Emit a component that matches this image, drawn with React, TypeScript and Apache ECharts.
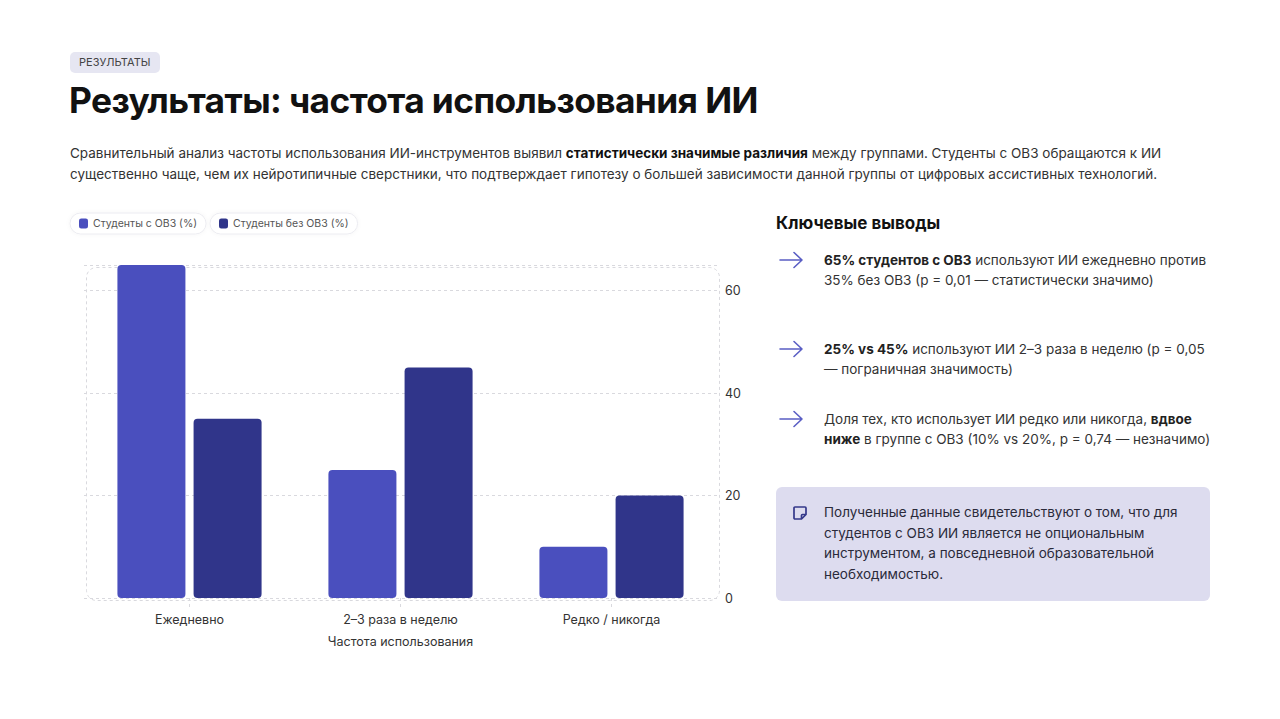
import React, { useEffect, useRef } from 'react';
import * as echarts from 'echarts';

const categories = ['Ежедневно', '2–3 раза в неделю', 'Редко / никогда'];
const withOvz = [65, 25, 10];
const withoutOvz = [35, 45, 20];
const seriesNames = ['Студенты с ОВЗ (%)', 'Студенты без ОВЗ (%)'];
const colors = ['#4a4fbe', '#30358a'];

const FONT = 'Inter, "Noto Sans", sans-serif';

// grid placement inside the chart box
const GRID = { left: 24, top: 60, width: 633, height: 333 };

const Chart: React.FC = () => {
  const chartRef = useRef<HTMLDivElement>(null);

  useEffect(() => {
    if (!chartRef.current) return;
    const myChart = echarts.init(chartRef.current, null, { renderer: 'svg' });

    const legendBase = {
      top: 8,
      orient: 'horizontal',
      icon: 'roundRect',
      itemWidth: 9,
      itemHeight: 10,
      itemGap: 0,
      padding: [5, 9, 5, 9],
      borderColor: '#ececf1',
      borderWidth: 1,
      borderRadius: 12,
      backgroundColor: '#fff',
      shadowColor: 'rgba(0,0,0,0.04)',
      shadowBlur: 4,
      textStyle: { fontFamily: FONT, fontSize: 10.5, color: '#555', letterSpacing: -0.2 },
    };

    const option = {
      animation: false,
      textStyle: { fontFamily: FONT },
      legend: [
        { ...legendBase, left: 10, data: [seriesNames[0]] },
        { ...legendBase, left: 150, data: [seriesNames[1]] },
      ],
      grid: { ...GRID, containLabel: false, show: false },
      graphic: [
        {
          type: 'rect',
          left: GRID.left,
          top: GRID.top,
          silent: true,
          z: -1,
          shape: { width: GRID.width, height: GRID.height, r: 10 },
          style: { fill: 'none', stroke: '#d9d9de', lineWidth: 1, lineDash: [3, 3] },
        },
      ],
      xAxis: {
        type: 'category',
        data: categories,
        name: 'Частота использования',
        nameLocation: 'middle',
        nameGap: 37,
        nameTextStyle: { fontFamily: FONT, fontSize: 12.5, color: '#333' },
        axisLine: { show: false },
        axisTick: {
          show: true,
          alignWithLabel: true,
          length: 10,
          lineStyle: { color: '#d9d9de', type: [3, 3] },
        },
        axisLabel: { fontFamily: FONT, fontSize: 12.5, color: '#333', margin: 15 },
      },
      yAxis: {
        type: 'value',
        position: 'right',
        min: 0,
        max: 65,
        interval: 20,
        axisLine: { show: false },
        axisTick: { show: false },
        axisLabel: {
          fontFamily: FONT,
          fontSize: 12.5,
          color: '#333',
          margin: 8,
          showMaxLabel: false,
        },
        splitLine: { lineStyle: { color: '#d9d9de', type: [3, 3] } },
      },
      series: [
        {
          name: seriesNames[0],
          type: 'bar',
          data: withOvz,
          barWidth: 68,
          barGap: '12%',
          itemStyle: { color: colors[0], borderRadius: 4 },
        },
        {
          name: seriesNames[1],
          type: 'bar',
          data: withoutOvz,
          barWidth: 68,
          barGap: '12%',
          itemStyle: { color: colors[1], borderRadius: 4 },
        },
      ],
    };

    myChart.setOption(option);
    return () => {
      myChart.dispose();
    };
  }, []);

  return (
    <div
      ref={chartRef}
      style={{ position: 'absolute', left: 60, top: 205, width: 700, height: 460 }}
    />
  );
};

const Arrow: React.FC<{ top: number }> = ({ top }) => (
  <svg
    width="26"
    height="18"
    viewBox="0 0 26 18"
    style={{ position: 'absolute', left: 779, top }}
  >
    <path
      d="M1 9 H23 M15 1.5 L23 9 L15 16.5"
      fill="none"
      stroke="#5a5ec4"
      strokeWidth="1.6"
      strokeLinecap="round"
      strokeLinejoin="round"
    />
  </svg>
);

const itemText: React.CSSProperties = {
  position: 'absolute',
  left: 824,
  width: 400,
  fontSize: 13.5,
  lineHeight: '20px',
  color: '#333',
};

const App: React.FC = () => {
  useEffect(() => {
    document.body.style.margin = '0';
  }, []);

  return (
    <div
      style={{
        position: 'relative',
        width: 1280,
        height: 719,
        background: '#fff',
        fontFamily: FONT,
        overflow: 'hidden',
      }}
    >
      <div
        style={{
          position: 'absolute',
          left: 70,
          top: 52,
          height: 21,
          lineHeight: '21px',
          padding: '0 9px',
          background: '#e6e6f2',
          borderRadius: 5,
          fontSize: 11,
          color: '#444',
        }}
      >
        РЕЗУЛЬТАТЫ
      </div>
      <div
        style={{
          position: 'absolute',
          left: 69,
          top: 79,
          fontSize: 35.3,
          lineHeight: '44px',
          fontWeight: 700,
          color: '#111',
          letterSpacing: -0.6,
        }}
      >
        Результаты: частота использования ИИ
      </div>
      <div
        style={{
          position: 'absolute',
          left: 70,
          top: 143,
          width: 1110,
          fontSize: 13.5,
          lineHeight: '21px',
          color: '#333',
        }}
      >
        Сравнительный анализ частоты использования ИИ-инструментов выявил{' '}
        <b style={{ color: '#111' }}>статистически значимые различия</b> между группами.
        Студенты с ОВЗ обращаются к ИИ существенно чаще, чем их нейротипичные сверстники, что
        подтверждает гипотезу о большей зависимости данной группы от цифровых ассистивных
        технологий.
      </div>

      <Chart />

      <div
        style={{
          position: 'absolute',
          left: 776,
          top: 212,
          fontSize: 17,
          lineHeight: '22px',
          fontWeight: 700,
          color: '#111',
        }}
      >
        Ключевые выводы
      </div>

      <Arrow top={251} />
      <div style={{ ...itemText, top: 250 }}>
        <b style={{ color: '#222' }}>65% студентов с ОВЗ</b> используют ИИ ежедневно против
        35% без ОВЗ (p = 0,01 — статистически значимо)
      </div>

      <Arrow top={340} />
      <div style={{ ...itemText, top: 339, width: 388 }}>
        <b style={{ color: '#222' }}>25% vs 45%</b> используют ИИ 2–3 раза в неделю{' '}
        {'(p\u00a0=\u00a00,05'} — пограничная значимость)
      </div>

      <Arrow top={410} />
      <div style={{ ...itemText, top: 409 }}>
        Доля тех, кто использует ИИ редко или никогда, <b style={{ color: '#222' }}>вдвое ниже</b>{' '}
        в группе с ОВЗ (10% vs 20%, p = 0,74 — незначимо)
      </div>

      <div
        style={{
          position: 'absolute',
          left: 776,
          top: 487,
          width: 434,
          height: 114,
          background: '#dddcef',
          borderRadius: 6,
        }}
      >
        <svg
          width="16"
          height="16"
          viewBox="0 0 16 16"
          style={{ position: 'absolute', left: 16, top: 18 }}
        >
          <path
            d="M3 2 H13 Q14 2 14 3 V9.5 L9.5 14 H3 Q2 14 2 13 V3 Q2 2 3 2 Z M14 9.5 H10.5 Q9.5 9.5 9.5 10.5 V14"
            fill="none"
            stroke="#34388a"
            strokeWidth="1.7"
            strokeLinejoin="round"
          />
        </svg>
        <div
          style={{
            position: 'absolute',
            left: 48,
            top: 15,
            width: 370,
            fontSize: 13.5,
            lineHeight: '20.7px',
            color: '#2a2a3a',
          }}
        >
          Полученные данные свидетельствуют о том, что для студентов с ОВЗ ИИ является не
          опциональным инструментом, а повседневной образовательной необходимостью.
        </div>
      </div>
    </div>
  );
};

export default App;
